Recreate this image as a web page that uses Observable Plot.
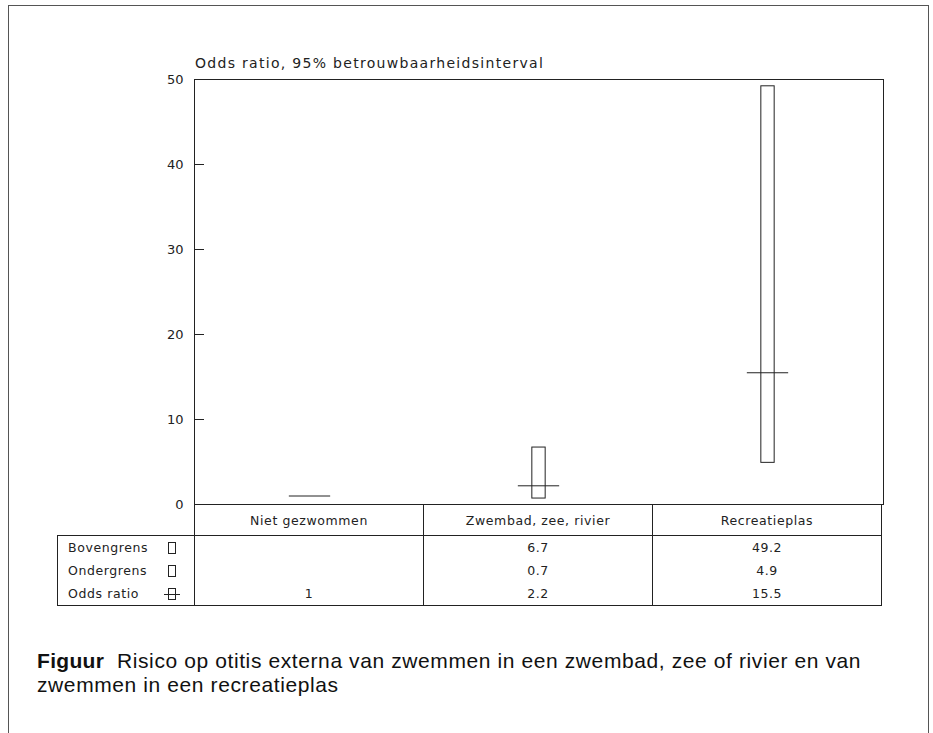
<!DOCTYPE html>
<html><head><meta charset="utf-8">
<script src="https://cdn.jsdelivr.net/npm/d3@7"></script>
<script src="https://cdn.jsdelivr.net/npm/@observablehq/plot@0.6"></script>
<style>
body{margin:0;background:#fff;width:933px;height:733px;position:relative;overflow:hidden;font-family:"DejaVu Sans",sans-serif;color:#222}
#frame{position:absolute;left:8px;top:5px;width:919px;height:800px;border:1px solid #555;border-bottom:none}
#title{position:absolute;left:195px;top:55px;font-size:14px;line-height:16px;letter-spacing:1.3px;white-space:nowrap}
#chart{position:absolute;left:0;top:0}
#tbl{position:absolute;left:57px;top:504px;border-collapse:collapse;table-layout:fixed;font-size:12.5px;letter-spacing:0.6px}
#tbl td{padding:0;text-align:center;white-space:nowrap}
#tbl tr.hdr td{height:30px}
#tbl tr.row td{height:23px}
#tbl td.h{border:1px solid #222}
#tbl td.v{border-left:1px solid #222;border-right:1px solid #222}
#tbl td.leg{border-left:1px solid #222;border-right:1px solid #222;text-align:left;padding-left:10px}
#tbl tr.first td.leg{border-top:1px solid #222}
#tbl tr.last td{border-bottom:1px solid #222}
.legc{display:flex;justify-content:space-between;align-items:center;padding-right:14px}
#caption{position:absolute;left:37px;top:649px;width:890px;font-family:"Liberation Sans",Arial,sans-serif;font-size:21px;line-height:24px;letter-spacing:0.6px;color:#111;white-space:nowrap}
</style>
</head><body>
<div id="frame"></div>
<div id="title">Odds ratio, 95% betrouwbaarheidsinterval</div>
<div id="chart"></div>
<table id="tbl"></table>
<div id="caption"><b style="letter-spacing:0.3px">Figuur</b>&nbsp; Risico op otitis externa van zwemmen in een zwembad, zee of rivier en van<br>zwemmen in een recreatieplas</div>
<script>
// ---- data ----
const categories = ["Niet gezwommen", "Zwembad, zee, rivier", "Recreatieplas"];
const oddsRatio  = [1, 2.2, 15.5];
const lowerBound = [null, 0.7, 4.9];
const upperBound = [null, 6.7, 49.2];
const yTicks     = [0, 10, 20, 30, 40, 50];
const rowLabels  = ["Bovengrens", "Ondergrens", "Odds ratio"];

// ---- chart ----
const W = 933, H = 524, mL = 194, mR = 50, mT = 79, mB = 20;
const bw = (W - mL - mR) / categories.length;
const boxW = 14, lineW = 42;
const data = categories.map((c, i) => ({cat: c, or: oddsRatio[i], lo: lowerBound[i], hi: upperBound[i]}));
const ink = "#222";

const plot = Plot.plot({
  width: W, height: H,
  marginLeft: mL, marginRight: mR, marginTop: mT, marginBottom: mB,
  x: {domain: categories, padding: 0, axis: null},
  y: {domain: [0, 50]},
  style: {fontFamily: "DejaVu Sans", fontSize: "13px", color: ink, background: "transparent"},
  marks: [
    Plot.frame({stroke: ink}),
    Plot.axisY(yTicks, {tickSize: 0, tickPadding: 11, label: null, fontSize: 13}),
    Plot.tickY(yTicks, {y: d => d, stroke: ink, insetRight: W - mL - mR - 10}),
    Plot.barY(data.filter(d => d.hi != null), {
      x: "cat", y1: "lo", y2: "hi", fill: "none", stroke: ink,
      insetLeft: (bw - boxW) / 2, insetRight: (bw - boxW) / 2
    }),
    Plot.tickY(data, {
      x: "cat", y: "or", stroke: ink,
      insetLeft: (bw - lineW) / 2, insetRight: (bw - lineW) / 2
    })
  ]
});
document.getElementById("chart").appendChild(plot);

// ---- table under the chart ----
const xs = plot.scale("x");
const colW = xs.bandwidth;
const tbl = document.getElementById("tbl");
const legW = mL - 57;
let html = `<colgroup><col style="width:${legW}px">` + categories.map(() => `<col style="width:${colW}px">`).join("") + `</colgroup>`;
html += `<tr class="hdr"><td></td>` + categories.map(c => `<td class="h">${c}</td>`).join("") + `</tr>`;
const seriesRows = [upperBound, lowerBound, oddsRatio];
const sym = (cross) => `<svg width="16" height="14" style="display:block"><rect x="4.5" y="1.5" width="7" height="11" fill="none" stroke="${ink}" stroke-width="1"/>${cross ? `<line x1="0" x2="16" y1="7.5" y2="7.5" stroke="${ink}"/>` : ""}</svg>`;
rowLabels.forEach((lab, r) => {
  const cls = "row" + (r === 0 ? " first" : "") + (r === rowLabels.length - 1 ? " last" : "");
  html += `<tr class="${cls}"><td class="leg"><div class="legc"><span>${lab}</span>${sym(r === 2)}</div></td>` +
    seriesRows[r].map(v => `<td class="v">${v == null ? "" : String(v)}</td>`).join("") + `</tr>`;
});
tbl.innerHTML = html;
</script>
</body></html>
